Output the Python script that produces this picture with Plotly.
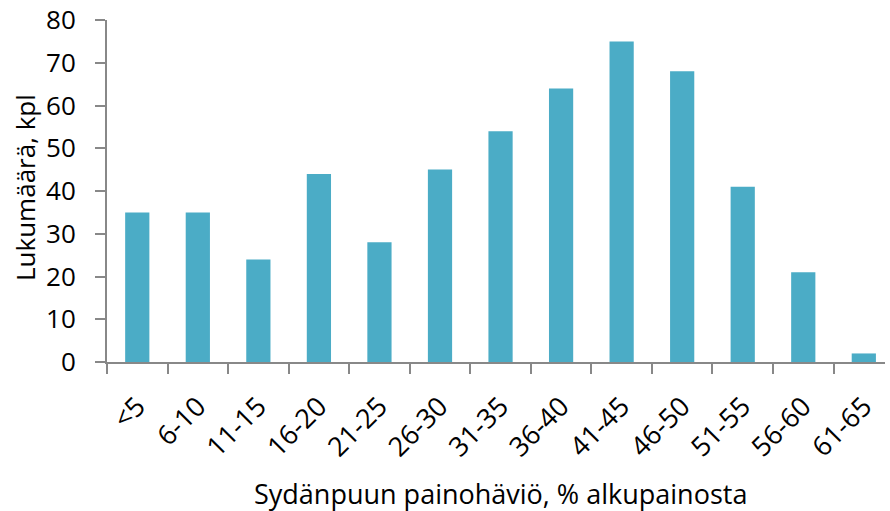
import plotly.graph_objects as go

categories = ["<5", "6-10", "11-15", "16-20", "21-25", "26-30", "31-35",
              "36-40", "41-45", "46-50", "51-55", "56-60", "61-65"]
counts = [35, 35, 24, 44, 28, 45, 54, 64, 75, 68, 41, 21, 2]

x_title = "Sydänpuun painohäviö, % alkupainosta"
y_title = "Lukumäärä, kpl"

font_family = "Open Sans, Noto Sans, DejaVu Sans, sans-serif"
fs = 26

fig = go.Figure(go.Bar(
    x=categories, y=counts,
    marker=dict(color="#4BACC6", line=dict(width=0)),
    width=0.4,
))

fig.update_layout(
    width=890, height=511,
    margin=dict(l=107, r=5, t=20, b=149),
    plot_bgcolor="white", paper_bgcolor="white",
    showlegend=False,
    font=dict(family=font_family, size=fs, color="#000000"),
)

fig.update_xaxes(
    type="category",
    range=[-0.5, 12.35],
    tickson="boundaries",
    ticks="outside", ticklen=10, tickwidth=2, tickcolor="#888888",
    showline=True, linecolor="#888888", linewidth=2,
    tickangle=-45,
    tickfont=dict(size=27),
    ticklabelstandoff=16,
    showgrid=False,
    automargin=False,
)

fig.update_yaxes(
    range=[0, 80],
    tickvals=list(range(0, 81, 10)),
    ticks="outside", ticklen=10, tickwidth=2, tickcolor="#888888",
    showline=True, linecolor="#888888", linewidth=2,
    showgrid=False, zeroline=False,
    tickfont=dict(size=fs),
    ticklabelstandoff=14,
    automargin=False,
)

fig.add_annotation(
    text=x_title, xref="paper", yref="paper",
    x=(500 - 107) / 778, y=-(493 - 362) / 342,
    showarrow=False, xanchor="center", yanchor="middle",
    font=dict(size=27),
)
fig.add_annotation(
    text=y_title, xref="paper", yref="paper",
    x=(25 - 107) / 778, y=(362 - 188) / 342,
    showarrow=False, xanchor="center", yanchor="middle",
    textangle=-90,
    font=dict(size=fs),
)

fig.write_html("out.html", config={"displayModeBar": False},
               post_script="document.body.style.margin='0';")
